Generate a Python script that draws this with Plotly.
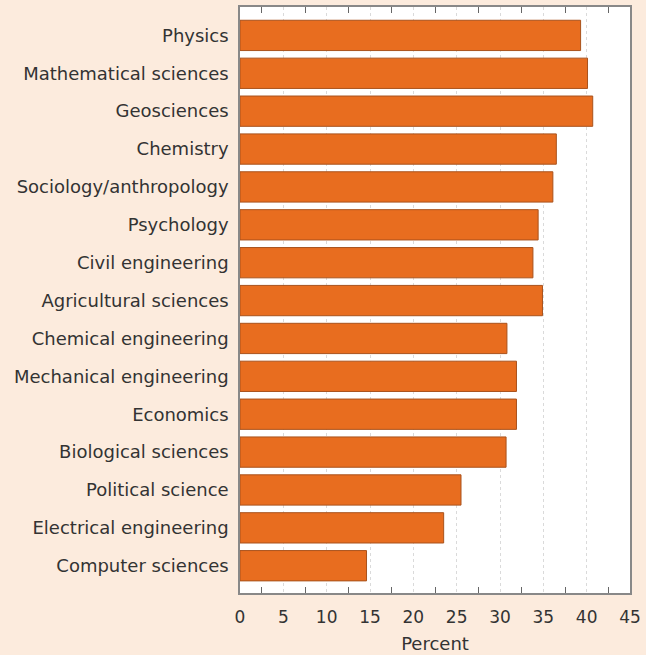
import plotly.graph_objects as go

fields = ["Physics", "Mathematical sciences", "Geosciences", "Chemistry",
          "Sociology/anthropology", "Psychology", "Civil engineering",
          "Agricultural sciences", "Chemical engineering", "Mechanical engineering",
          "Economics", "Biological sciences", "Political science",
          "Electrical engineering", "Computer sciences"]
percent = [39.3, 40.1, 40.7, 36.5, 36.1, 34.4, 33.8, 34.9, 30.8, 31.9, 31.9, 30.7, 25.5, 23.5, 14.6]
x_ticks = [0, 5, 10, 15, 20, 25, 30, 35, 40, 45]

fig = go.Figure()
fig.add_trace(go.Bar(
    x=percent, y=fields, orientation="h",
    marker=dict(color="#E86D1F", line=dict(color="#A9521C", width=1)),
    width=0.8, hoverinfo="x+y",
))
# invisible copy on the top axis so that its tick marks are drawn
fig.add_trace(go.Scatter(x=percent, y=fields, xaxis="x2", yaxis="y", mode="markers",
                         marker=dict(opacity=0), hoverinfo="skip", showlegend=False))

font_family = "DejaVu Sans, Liberation Sans, Arial, sans-serif"
minor_ticks = dict(ticks="inside", tick0=2.5, dtick=5, ticklen=6, tickcolor="#666666",
                   tickwidth=1.2, showgrid=False)
fig.update_layout(
    width=646, height=655,
    margin=dict(l=240, r=16, t=7, b=62),
    paper_bgcolor="#FCEBDD",
    plot_bgcolor="#FFFFFF",
    showlegend=False,
    font=dict(family=font_family, size=18, color="#333333"),
    xaxis=dict(
        range=[0, 45], tickvals=x_ticks, ticks="",
        showgrid=True, gridcolor="#DADADA", griddash="dot", gridwidth=1,
        showline=True, linecolor="#888888", linewidth=1.5, mirror=True,
        zeroline=False, automargin=False,
        minor=minor_ticks,
        ticklabelstandoff=8,
        title=dict(text="Percent", standoff=11, font=dict(size=18)),
        tickfont=dict(size=17),
    ),
    xaxis2=dict(
        range=[0, 45], overlaying="x", side="top", matches="x",
        tickvals=x_ticks, ticks="", showticklabels=False, showgrid=False,
        zeroline=False, showline=False, automargin=False,
        minor=minor_ticks,
    ),
    yaxis=dict(
        range=[14.72, -0.75], ticks="", showgrid=False,
        showline=True, linecolor="#888888", linewidth=1.5, mirror=True,
        tickfont=dict(size=18), ticklabelstandoff=6, automargin=False,
    ),
)

fig.write_html("out.html", config={"displayModeBar": False},
               post_script="document.body.style.margin='0';document.body.style.overflow='hidden';")
